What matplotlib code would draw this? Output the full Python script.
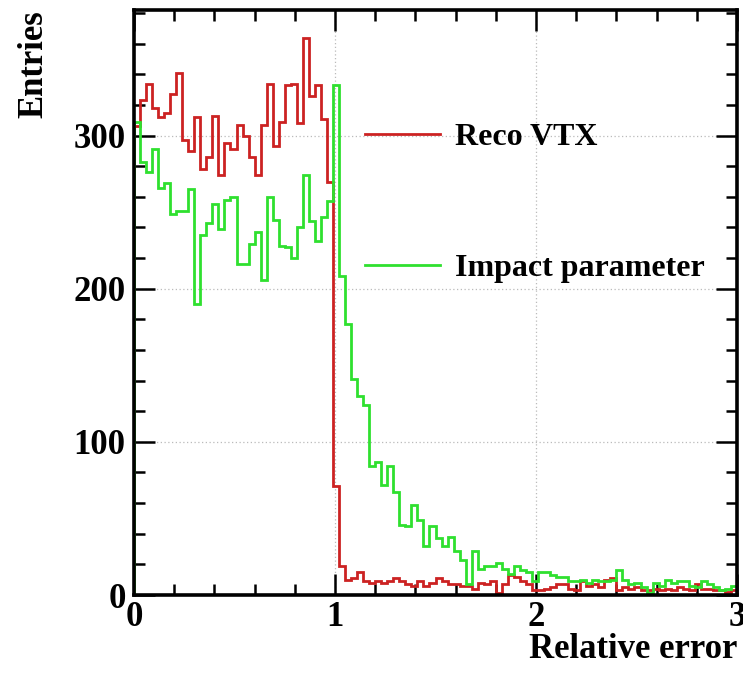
import numpy as np
import matplotlib
matplotlib.use("Agg")
import matplotlib.pyplot as plt
from matplotlib.ticker import MultipleLocator
from matplotlib.lines import Line2D

# ---- data (100 bins from 0 to 3) ----
bin_lo, bin_hi, n_bins = 0.0, 3.0, 100

reco_vtx = [
    306, 323, 334, 318, 312, 315, 327, 341, 297, 290,
    312, 278, 286, 313, 274, 295, 291, 307, 300, 286,
    274, 307, 334, 293, 309, 333, 334, 308, 364, 326,
    333, 311, 270, 71, 19, 10, 11, 15, 9, 8,
    9, 8, 9, 11, 9, 7, 6, 9, 6, 8,
    11, 9, 7, 7, 6, 6, 4, 8, 7, 9,
    1, 7, 13, 12, 9, 7, 3, 3, 4, 5,
    7, 7, 4, 3, 9, 6, 7, 5, 10, 11,
    3, 5, 4, 5, 3, 3, 4, 3, 4, 3,
    5, 4, 3, 7, 4, 4, 3, 3, 2, 3,
]

impact_param = [
    309, 283, 276, 291, 266, 269, 249, 251, 251, 265,
    190, 235, 243, 255, 239, 258, 260, 216, 216, 229,
    237, 206, 260, 245, 228, 227, 220, 240, 274, 244,
    231, 247, 257, 333, 208, 177, 141, 130, 124, 84,
    87, 72, 84, 67, 46, 45, 59, 49, 32, 45,
    37, 32, 38, 29, 23, 7, 29, 17, 19, 19,
    21, 17, 14, 19, 16, 15, 9, 15, 15, 13,
    12, 12, 9, 9, 10, 8, 10, 9, 9, 10,
    16, 10, 7, 8, 5, 1, 8, 6, 10, 8,
    9, 9, 6, 5, 9, 7, 5, 3, 4, 6,
]

series_labels = ["Reco VTX", "Impact parameter"]
x_label = "Relative error"
y_label = "Entries"

edges = np.linspace(bin_lo, bin_hi, n_bins + 1)

# ---- styling ----
plt.rcParams['font.family'] = ['Liberation Serif', 'DejaVu Serif']
plt.rcParams['font.weight'] = 'bold'

red = '#cc2222'
green = '#2fe02f'

fig = plt.figure(figsize=(7.43, 6.76), dpi=100)
ax = fig.add_axes([134/743, 1 - 595/676, (737 - 134)/743, (595 - 10)/676])

ax.stairs(reco_vtx, edges, baseline=0, color=red, lw=2.0, zorder=3)
ax.stairs(impact_param, edges, baseline=0, color=green, lw=2.0, zorder=4)

ax.set_xlim(0, 3)
ax.set_ylim(0, 382)

ax.xaxis.set_major_locator(MultipleLocator(1))
ax.xaxis.set_minor_locator(MultipleLocator(0.2))
ax.yaxis.set_major_locator(MultipleLocator(100))
ax.yaxis.set_minor_locator(MultipleLocator(20))

ax.grid(True, which='major', color='#bbbbbb', ls=(0, (1, 2)), lw=0.9, zorder=0)

for s in ax.spines.values():
    s.set_linewidth(2.6)
    s.set_zorder(5)

ax.tick_params(which='both', direction='in', top=True, right=True,
               labelsize=25, width=1.8)
ax.tick_params(axis='y', pad=6)
ax.tick_params(axis='x', pad=4)
ax.tick_params(which='major', length=15)
ax.tick_params(which='minor', length=8)
for lab in ax.get_xticklabels() + ax.get_yticklabels():
    lab.set_fontweight('bold')

ax.set_xlabel(x_label, fontsize=25, fontweight='bold', loc='right')
ax.set_ylabel(y_label, fontsize=25, fontweight='bold', loc='top')
ax.xaxis.set_label_coords(1.0, -0.065)
ax.yaxis.set_label_coords(-0.138, 1.0)

handles = [Line2D([], [], color=red, lw=2.0), Line2D([], [], color=green, lw=2.0)]
ax.legend(handles, series_labels, loc='upper left', bbox_to_anchor=(0.383, 0.808),
          frameon=False, prop={'weight': 'bold', 'size': 23},
          handlelength=2.35, handletextpad=0.47, labelspacing=3.2,
          borderpad=0, borderaxespad=0)

fig.savefig('out.png', dpi=100)
